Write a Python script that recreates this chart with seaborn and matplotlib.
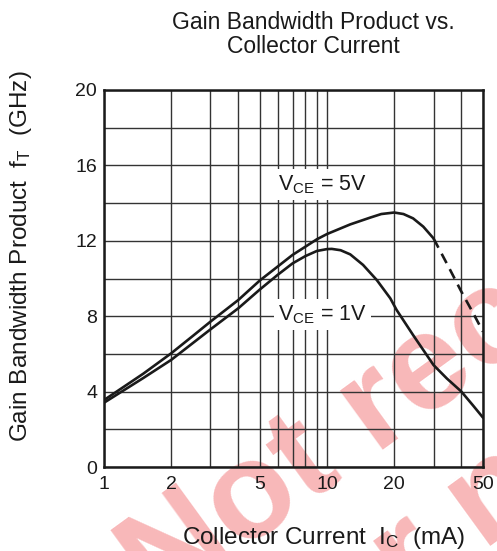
import matplotlib
matplotlib.use("Agg")
import matplotlib.pyplot as plt
import seaborn as sns
from matplotlib.ticker import FixedLocator, FixedFormatter, NullFormatter

# values (Ic in mA, fT in GHz)
ic_5v = [1, 1.5, 2, 2.5, 3, 4, 5, 6, 7, 8, 9, 10, 12.7, 15.6, 17.5, 20, 22, 24.3,
         27, 30]
ft_5v = [3.55, 4.95, 6.03, 6.95, 7.71, 8.86, 9.9, 10.63, 11.25, 11.69, 12.08, 12.36,
         12.87, 13.23, 13.42, 13.5, 13.42, 13.19, 12.75, 12.13]
# extrapolated part of the 5V curve (dashed)
ic_5v_ext = [30, 35, 40, 45, 50]
ft_5v_ext = [12.13, 10.63, 9.3, 8.2, 7.18]

ic_1v = [1, 1.5, 2, 3, 4, 5, 6, 7, 8, 9, 10, 10.5, 11.5, 12.7, 14.5, 16.7, 19.2,
         20.5, 24.3, 30, 34.4, 40, 45, 50]
ft_1v = [3.41, 4.72, 5.68, 7.3, 8.42, 9.42, 10.19, 10.8, 11.19, 11.46, 11.56, 11.57,
         11.5, 11.28, 10.72, 9.92, 8.95, 8.33, 7.0, 5.41, 4.7, 4.0, 3.28, 2.62]

x_ticks = [1, 2, 5, 10, 20, 50]
x_grid = [3, 4, 6, 7, 8, 9, 30, 40]
y_ticks = [0, 4, 8, 12, 16, 20]
y_grid = [2, 6, 10, 14, 18]

sns.set_style("white")
plt.rcParams["font.family"] = ["Liberation Sans", "DejaVu Sans"]
plt.rcParams["mathtext.fontset"] = "custom"
plt.rcParams["mathtext.rm"] = "Liberation Sans"

fig = plt.figure(figsize=(4.97, 5.51), dpi=100)
ax = fig.add_axes([104 / 497, 84 / 551, 379 / 497, 377 / 551])
ax.patch.set_alpha(0)

# watermark behind the chart
wm = dict(rotation=36, rotation_mode="anchor", ha="center", va="baseline",
          fontsize=99, fontweight="bold", color="#f8b8b9", zorder=-5)
fig.text(648 / 497, 1 - 257 / 551, "Not recommended", **wm)
fig.text(728 / 497, 1 - 374 / 551, "for new designs", **wm)

ax.set_xscale("log")
line_kw = dict(color="#1a1a1a", linewidth=1.9, ax=ax, legend=False)
sns.lineplot(x=ic_5v, y=ft_5v, **line_kw)
sns.lineplot(x=ic_5v_ext, y=ft_5v_ext, linestyle=(0, (4, 2.6)), **line_kw)
sns.lineplot(x=ic_1v, y=ft_1v, **line_kw)

ax.set_xlim(1, 50)
ax.set_ylim(0, 20)
ax.xaxis.set_major_locator(FixedLocator(x_ticks))
ax.xaxis.set_major_formatter(FixedFormatter([str(v) for v in x_ticks]))
ax.xaxis.set_minor_locator(FixedLocator(x_grid))
ax.xaxis.set_minor_formatter(NullFormatter())
ax.yaxis.set_major_locator(FixedLocator(y_ticks))
ax.yaxis.set_minor_locator(FixedLocator(y_grid))
ax.grid(True, which="both", color="#333333", linewidth=1.0)
ax.set_axisbelow(True)
ax.tick_params(which="both", length=0, labelsize=14, colors="#1a1a1a")
ax.tick_params(axis="x", pad=6.5)
ax.tick_params(axis="y", pad=5)
for s in ax.spines.values():
    s.set_linewidth(1.8)
    s.set_color("#1a1a1a")
    s.set_zorder(5)

box = dict(facecolor="white", edgecolor="none", boxstyle="square,pad=0.2")
ax.text(9.55, 15.0, r"V$\mathregular{_{CE}}$ = 5V", fontsize=15.5, ha="center",
        va="center", color="#1a1a1a", bbox=box, zorder=4)
ax.text(9.55, 8.1, r"V$\mathregular{_{CE}}$ = 1V", fontsize=15.5, ha="center",
        va="center", color="#1a1a1a", bbox=box, zorder=4)

ax.set_xlabel(r"Collector Current  I$\mathregular{_C}$  (mA)", fontsize=17.5,
              color="#1a1a1a")
ax.xaxis.set_label_coords(0.5805, -0.154)
ax.set_ylabel(r"Gain Bandwidth Product  f$\mathregular{_T}$  (GHz)", fontsize=17.5,
              color="#1a1a1a")
ax.yaxis.set_label_coords(-0.185, 0.56)

fig.text(313 / 497, 1 - 29 / 551, "Gain Bandwidth Product vs.", ha="center",
         va="baseline", fontsize=16.5, color="#1a1a1a")
fig.text(313 / 497, 1 - 53 / 551, "Collector Current", ha="center",
         va="baseline", fontsize=16.5, color="#1a1a1a")

fig.savefig("out.png", dpi=100)
